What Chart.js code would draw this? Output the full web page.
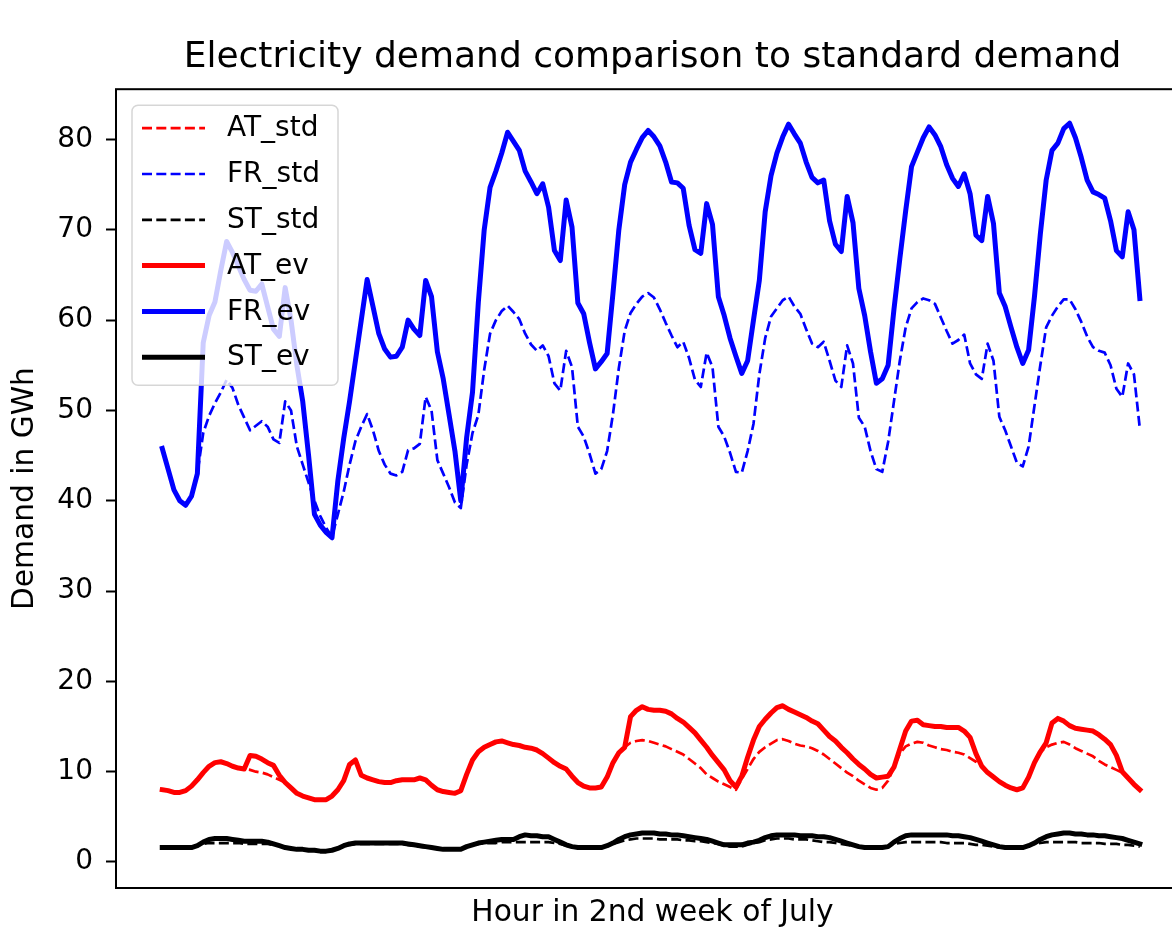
<!DOCTYPE html>
<html>
<head>
<meta charset="utf-8">
<script src="https://cdn.jsdelivr.net/npm/chart.js@4"></script>
<style>
  html, body { margin: 0; padding: 0; background: #fff; overflow: hidden; }
  #wrap { width: 1172px; height: 927px; overflow: hidden; }
  canvas { display: block; }
</style>
</head>
<body>
<div id="wrap"><canvas id="chart" width="1200" height="940"></canvas></div>
<script>
// hourly demand in GWh, 2nd week of July (168 hours)
const AT_std = [
  8.0, 7.9, 7.7, 7.7, 7.9, 8.4, 9.1, 9.9, 10.6, 11.0, 11.1, 10.9, 10.6, 10.4, 10.3, 10.2, 10.0, 9.9, 9.7, 9.4, 9.1, 8.8, 8.2, 7.6,
  7.3, 7.1, 6.9, 6.9, 6.9, 7.3, 8.0, 9.0, 10.8, 11.3, 9.6, 9.3, 9.1, 8.9, 8.8, 8.8, 9.0, 9.1, 9.1, 9.1, 9.3, 9.1, 8.5, 8.0,
  7.8, 7.7, 7.6, 7.9, 9.7, 11.3, 12.2, 12.7, 13.0, 13.3, 13.4, 13.2, 13.0, 12.9, 12.7, 12.6, 12.4, 12.0, 11.5, 11.0, 10.6, 10.3, 9.5, 8.8,
  8.4, 8.2, 8.2, 8.3, 9.4, 11.0, 12.1, 12.7, 13.2, 13.4, 13.5, 13.4, 13.2, 13.0, 12.8, 12.5, 12.2, 11.9, 11.4, 10.9, 10.4, 9.7, 9.3, 8.9,
  8.6, 8.3, 8.0, 9.2, 10.3, 11.4, 12.2, 12.7, 13.1, 13.5, 13.6, 13.4, 13.1, 12.9, 12.8, 12.6, 12.3, 11.9, 11.4, 10.9, 10.4, 9.9, 9.5, 9.0,
  8.6, 8.2, 8.0, 8.2, 9.0, 10.5, 12.0, 12.8, 13.1, 13.3, 13.2, 12.9, 12.7, 12.5, 12.4, 12.2, 12.1, 11.9, 11.5, 11.1, 10.6, 9.9, 9.4, 8.9,
  8.5, 8.2, 8.0, 8.2, 9.4, 11.0, 12.2, 12.7, 13.0, 13.2, 13.3, 13.0, 12.6, 12.3, 12.0, 11.7, 11.2, 10.8, 10.5, 10.2, 9.9, 9.3, 8.6, 8.0
];
const FR_std = [
  45.8, 43.5, 41.2, 40.0, 39.5, 40.5, 43.0, 47.5, 49.4, 50.8, 52.0, 53.4, 52.5, 50.6, 49.2, 47.8, 48.3, 48.8, 48.2, 46.8, 46.4, 51.0, 50.0, 46.0,
  44.0, 42.0, 40.0, 38.3, 37.0, 36.0, 38.5, 41.0, 44.0, 46.6, 48.2, 49.6, 47.8, 45.5, 44.0, 43.0, 42.8, 43.2, 45.6, 45.8, 46.3, 51.5, 50.0, 44.5,
  43.0, 41.5, 39.8, 39.2, 44.0, 47.5, 49.5, 54.5, 58.5, 60.0, 61.0, 61.6, 60.9, 60.1, 58.5, 57.3, 56.6, 57.2, 56.0, 53.0, 52.2, 56.6, 54.8, 48.2,
  47.1, 45.2, 43.0, 43.5, 45.5, 49.6, 54.7, 58.8, 60.8, 61.8, 62.6, 63.0, 62.5, 61.2, 59.7, 58.3, 57.0, 57.6, 55.8, 53.4, 52.6, 56.4, 54.8, 48.2,
  47.1, 45.3, 43.2, 43.1, 45.5, 48.5, 54.0, 58.0, 60.4, 61.3, 62.2, 62.6, 61.5, 60.7, 59.0, 57.4, 57.0, 57.6, 55.5, 53.3, 52.6, 57.2, 55.2, 49.2,
  48.2, 45.5, 43.5, 43.2, 46.5, 51.0, 55.5, 59.2, 61.3, 62.0, 62.4, 62.2, 61.8, 60.3, 58.8, 57.4, 57.8, 58.4, 55.2, 54.0, 53.5, 57.4, 55.5, 49.3,
  47.8, 46.0, 44.2, 43.8, 46.0, 50.5, 55.0, 59.2, 60.5, 61.5, 62.3, 62.3, 61.2, 59.8, 58.2, 57.0, 56.6, 56.4, 55.0, 52.4, 51.5, 55.2, 54.0, 48.0
];
const ST_std = [
  1.6, 1.6, 1.6, 1.6, 1.6, 1.6, 1.8, 2.0, 2.1, 2.1, 2.1, 2.1, 2.1, 2.1, 2.0, 2.0, 2.0, 2.0, 2.0, 1.9, 1.8, 1.6, 1.5, 1.4,
  1.4, 1.3, 1.3, 1.2, 1.2, 1.3, 1.5, 1.8, 1.9, 2.0, 2.0, 2.0, 2.0, 2.0, 2.0, 2.0, 2.0, 2.0, 1.9, 1.8, 1.7, 1.6, 1.5, 1.5,
  1.4, 1.4, 1.4, 1.4, 1.7, 1.9, 2.0, 2.1, 2.1, 2.1, 2.2, 2.2, 2.2, 2.2, 2.2, 2.2, 2.2, 2.2, 2.2, 2.1, 2.0, 1.8, 1.7, 1.6,
  1.6, 1.6, 1.6, 1.6, 1.8, 2.0, 2.2, 2.4, 2.5, 2.6, 2.6, 2.6, 2.6, 2.5, 2.5, 2.5, 2.5, 2.4, 2.4, 2.3, 2.3, 2.2, 2.1, 2.0,
  1.8, 1.7, 1.7, 1.7, 1.9, 2.1, 2.2, 2.4, 2.5, 2.6, 2.6, 2.6, 2.5, 2.5, 2.5, 2.4, 2.3, 2.2, 2.2, 2.1, 2.0, 1.9, 1.8, 1.7,
  1.6, 1.6, 1.6, 1.6, 1.7, 2.0, 2.1, 2.2, 2.2, 2.2, 2.2, 2.2, 2.2, 2.2, 2.1, 2.1, 2.1, 2.1, 2.0, 1.9, 1.9, 1.8, 1.7, 1.6,
  1.6, 1.6, 1.6, 1.6, 1.8, 2.0, 2.1, 2.2, 2.2, 2.2, 2.2, 2.2, 2.2, 2.1, 2.1, 2.1, 2.1, 2.0, 2.0, 2.0, 1.9, 1.9, 1.8, 1.7
];
const AT_ev = [
  8.0, 7.9, 7.7, 7.7, 7.9, 8.4, 9.1, 9.9, 10.6, 11.0, 11.1, 10.9, 10.6, 10.4, 10.3, 11.8, 11.7, 11.4, 11.0, 10.7, 9.6, 8.8, 8.2, 7.6,
  7.3, 7.1, 6.9, 6.9, 6.9, 7.3, 8.0, 9.0, 10.8, 11.3, 9.6, 9.3, 9.1, 8.9, 8.8, 8.8, 9.0, 9.1, 9.1, 9.1, 9.3, 9.1, 8.5, 8.0,
  7.8, 7.7, 7.6, 7.9, 9.7, 11.3, 12.2, 12.7, 13.0, 13.3, 13.4, 13.2, 13.0, 12.9, 12.7, 12.6, 12.4, 12.0, 11.5, 11.0, 10.6, 10.3, 9.5, 8.8,
  8.4, 8.2, 8.2, 8.3, 9.4, 11.0, 12.1, 12.7, 16.1, 16.8, 17.2, 16.9, 16.8, 16.8, 16.7, 16.4, 15.9, 15.5, 14.9, 14.3, 13.5, 12.7, 11.8, 11.0,
  10.2, 9.0, 8.3, 9.5, 11.6, 13.5, 15.0, 15.8, 16.5, 17.1, 17.3, 16.9, 16.6, 16.3, 16.0, 15.6, 15.3, 14.6, 13.9, 13.4, 12.7, 12.1, 11.4, 10.8,
  10.3, 9.7, 9.3, 9.4, 9.5, 10.5, 12.5, 14.5, 15.6, 15.7, 15.2, 15.1, 15.0, 15.0, 14.9, 14.9, 14.9, 14.5, 13.8, 12.0, 10.6, 9.9, 9.4, 8.9,
  8.5, 8.2, 8.0, 8.2, 9.4, 11.0, 12.2, 13.2, 15.4, 15.9, 15.6, 15.1, 14.8, 14.7, 14.6, 14.5, 14.1, 13.6, 13.0, 11.8, 10.0, 9.3, 8.6, 8.0
];
const FR_ev = [
  45.8, 43.5, 41.2, 40.0, 39.5, 40.5, 43.0, 57.5, 60.5, 62.0, 65.5, 68.7, 67.5, 66.0, 64.5, 63.3, 63.2, 64.0, 61.5, 59.0, 58.2, 63.6, 60.0, 55.0,
  51.0, 45.0, 38.5, 37.3, 36.5, 35.9, 42.2, 46.9, 51.0, 55.5, 60.0, 64.5, 61.5, 58.5, 56.8, 55.9, 56.0, 57.0, 60.0, 59.0, 58.3, 64.4, 62.6, 56.5,
  53.5, 49.5, 45.5, 40.0, 47.0, 52.0, 62.0, 70.0, 74.7, 76.5, 78.5, 80.8, 79.8, 78.8, 76.5, 75.3, 74.0, 75.1, 72.5, 67.7, 66.6, 73.3, 70.3, 61.9,
  60.7, 57.5, 54.6, 55.4, 56.3, 63.0, 70.0, 75.0, 77.5, 78.9, 80.2, 81.0, 80.3, 79.3, 77.5, 75.3, 75.2, 74.6, 70.5, 67.8, 67.4, 72.9, 70.6, 62.6,
  60.5, 58.0, 56.0, 54.1, 55.5, 60.0, 64.4, 72.0, 76.0, 78.5, 80.3, 81.7, 80.6, 79.6, 77.5, 75.8, 75.2, 75.5, 71.0, 68.4, 67.6, 73.7, 70.8, 63.5,
  60.5, 56.5, 53.0, 53.5, 55.0, 61.2, 66.8, 72.1, 77.0, 78.6, 80.2, 81.4, 80.5, 79.2, 77.2, 75.7, 74.8, 76.2, 74.0, 69.4, 68.8, 73.7, 70.7, 63.0,
  61.5, 59.2, 57.0, 55.2, 56.7, 62.6, 69.5, 75.5, 78.8, 79.6, 81.2, 81.8, 80.2, 78.0, 75.5, 74.2, 73.9, 73.5, 71.0, 67.7, 67.0, 72.0, 70.0, 62.4
];
const ST_ev = [
  1.6, 1.6, 1.6, 1.6, 1.6, 1.6, 1.8, 2.2, 2.5, 2.6, 2.6, 2.6, 2.5, 2.4, 2.3, 2.3, 2.3, 2.3, 2.2, 2.0, 1.8, 1.6, 1.5, 1.4,
  1.4, 1.3, 1.3, 1.2, 1.2, 1.3, 1.5, 1.8, 2.0, 2.1, 2.1, 2.1, 2.1, 2.1, 2.1, 2.1, 2.1, 2.1, 2.0, 1.9, 1.8, 1.7, 1.6, 1.5,
  1.4, 1.4, 1.4, 1.4, 1.7, 1.9, 2.1, 2.2, 2.3, 2.4, 2.5, 2.5, 2.5, 2.8, 3.0, 2.9, 2.9, 2.8, 2.8, 2.5, 2.2, 1.9, 1.7, 1.6,
  1.6, 1.6, 1.6, 1.6, 1.8, 2.1, 2.5, 2.8, 3.0, 3.1, 3.2, 3.2, 3.2, 3.1, 3.1, 3.0, 3.0, 2.9, 2.8, 2.7, 2.6, 2.5, 2.3, 2.1,
  1.9, 1.9, 1.9, 1.9, 2.1, 2.2, 2.4, 2.7, 2.9, 3.0, 3.0, 3.0, 3.0, 2.9, 2.9, 2.9, 2.8, 2.8, 2.7, 2.5, 2.3, 2.1, 1.9, 1.7,
  1.6, 1.6, 1.6, 1.6, 1.7, 2.2, 2.6, 2.9, 3.0, 3.0, 3.0, 3.0, 3.0, 3.0, 3.0, 2.9, 2.9, 2.8, 2.7, 2.5, 2.3, 2.1, 1.9, 1.7,
  1.6, 1.6, 1.6, 1.6, 1.8, 2.1, 2.5, 2.8, 3.0, 3.1, 3.2, 3.2, 3.1, 3.1, 3.0, 3.0, 2.9, 2.9, 2.8, 2.7, 2.6, 2.4, 2.2, 2.0
];

const hours = AT_ev.map((v, i) => i);
const yTicks = [0, 10, 20, 30, 40, 50, 60, 70, 80];

const titleText = 'Electricity demand comparison to standard demand';
const xTitle = 'Hour in 2nd week of July';
const yTitle = 'Demand in GWh';

Chart.defaults.font.family = "'DejaVu Sans', sans-serif";
Chart.defaults.color = '#000';

function pts(vals) {
  return vals.map((v, i) => ({ x: hours[i], y: v }));
}

function line(label, vals, color, dashed) {
  return {
    label: label,
    data: pts(vals),
    borderColor: color,
    backgroundColor: color,
    borderWidth: dashed ? 2.7 : 5,
    borderDash: dashed ? [10, 4.3] : [],
    borderCapStyle: dashed ? 'butt' : 'square',
    borderJoinStyle: 'round',
    pointRadius: 0,
    tension: 0,
    fill: false,
    order: dashed ? 2 : 1
  };
}

// axes frame (matplotlib style spines)
const spines = {
  id: 'spines',
  afterDatasetsDraw(chart) {
    const { ctx, chartArea: a } = chart;
    ctx.save();
    ctx.strokeStyle = '#000';
    ctx.lineWidth = 2;
    ctx.strokeRect(a.left, a.top, a.right - a.left, a.bottom - a.top);
    ctx.restore();
  }
};

// legend box in the upper left corner of the axes
const boxLegend = {
  id: 'boxLegend',
  afterDraw(chart) {
    const { ctx, chartArea: a } = chart;
    const sets = chart.data.datasets;
    const left = a.left + 16, top = a.top + 16, w = 206, h = 280, r = 6, rowH = 45.8;
    ctx.save();
    ctx.beginPath();
    ctx.moveTo(left + r, top);
    ctx.arcTo(left + w, top, left + w, top + h, r);
    ctx.arcTo(left + w, top + h, left, top + h, r);
    ctx.arcTo(left, top + h, left, top, r);
    ctx.arcTo(left, top, left + w, top, r);
    ctx.closePath();
    ctx.fillStyle = 'rgba(255,255,255,0.8)';
    ctx.fill();
    ctx.strokeStyle = 'rgba(204,204,204,0.8)';
    ctx.lineWidth = 1.5;
    ctx.stroke();
    sets.forEach((ds, i) => {
      const y = top + 23 + i * rowH;
      ctx.strokeStyle = ds.borderColor;
      ctx.lineWidth = ds.borderWidth;
      ctx.setLineDash(ds.borderDash);
      ctx.lineCap = 'butt';
      ctx.beginPath();
      ctx.moveTo(left + 10, y);
      ctx.lineTo(left + 73, y);
      ctx.stroke();
      ctx.setLineDash([]);
      ctx.fillStyle = '#000';
      ctx.font = "28px 'DejaVu Sans'";
      ctx.textBaseline = 'middle';
      ctx.textAlign = 'left';
      ctx.fillText(ds.label, left + 95, y + 1);
    });
    ctx.restore();
  }
};

new Chart(document.getElementById('chart'), {
  type: 'line',
  data: {
    datasets: [
      line('AT_std', AT_std, '#ff0000', true),
      line('FR_std', FR_std, '#0000ff', true),
      line('ST_std', ST_std, '#000000', true),
      line('AT_ev', AT_ev, '#ff0000', false),
      line('FR_ev', FR_ev, '#0000ff', false),
      line('ST_ev', ST_ev, '#000000', false)
    ]
  },
  options: {
    responsive: false,
    animation: false,
    devicePixelRatio: 1,
    layout: { padding: { left: 0, right: 11, top: 0, bottom: 0 } },
    plugins: {
      legend: { display: false },
      tooltip: { enabled: false },
      title: {
        display: true,
        text: titleText,
        fullSize: false,
        color: '#000',
        font: { size: 36, weight: 'normal' },
        padding: { top: 36, bottom: 10 }
      }
    },
    scales: {
      x: {
        type: 'linear',
        min: -7.9,
        max: 175.4,
        ticks: { display: false },
        grid: { display: false },
        border: { display: false },
        title: { display: true, text: xTitle, color: '#000', font: { size: 29.7 }, padding: { top: 0, bottom: 9 } },
        afterFit(s) { s.height = 52; }
      },
      y: {
        min: -2.88,
        max: 85.57,
        afterBuildTicks(s) { s.ticks = yTicks.map(v => ({ value: v })); },
        ticks: { font: { size: 28 }, color: '#000', padding: 13 },
        grid: { drawOnChartArea: false, drawTicks: true, tickLength: 10, tickWidth: 2, tickColor: '#000' },
        border: { display: false },
        title: { display: true, text: yTitle, color: '#000', font: { size: 29.7 }, padding: { top: 7, bottom: 0 } },
        afterFit(s) { s.width = 116; }
      }
    }
  },
  plugins: [spines, boxLegend]
});
</script>
</body>
</html>
